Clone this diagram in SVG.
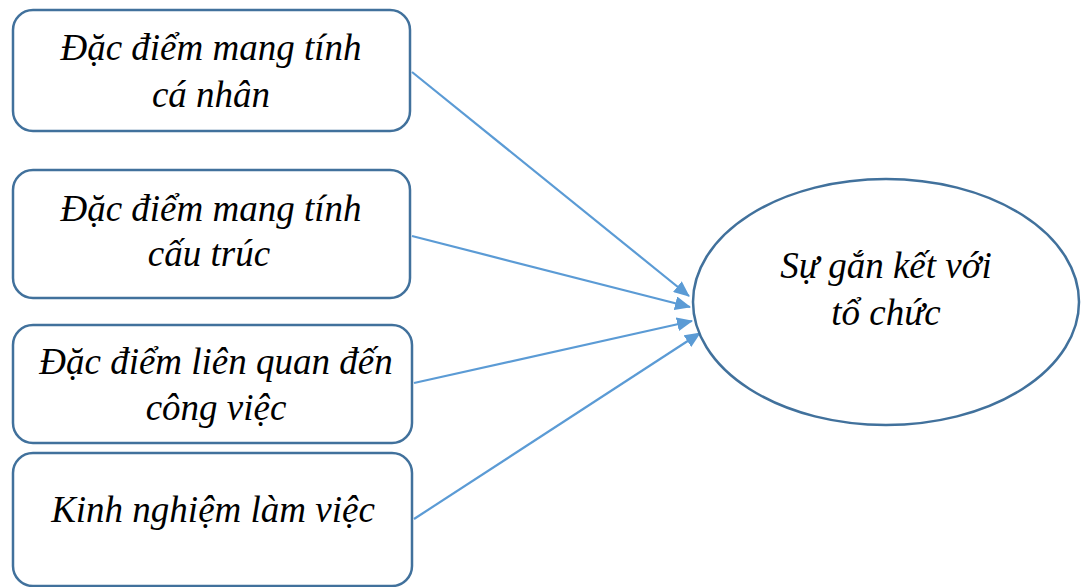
<svg xmlns="http://www.w3.org/2000/svg" width="1085" height="587" viewBox="0 0 1085 587">
  <style>
    .box { fill: #ffffff; stroke: #41719c; stroke-width: 2.5; }
    .lbl { font-family: "Liberation Serif", "Times New Roman", serif; font-style: italic; font-size: 37px; fill: #000000; text-anchor: middle; }
    .conn { stroke: #5b9bd5; stroke-width: 2.2; fill: none; marker-end: url(#arrow); }
  </style>
  <defs>
    <marker id="arrow" markerWidth="16" markerHeight="14" refX="15" refY="7" orient="auto" markerUnits="userSpaceOnUse" viewBox="0 0 16 14">
      <path d="M0,0 L16,7 L0,14 z" fill="#5b9bd5"/>
    </marker>
  </defs>

  <g id="connectors">
    <line class="conn" x1="412" y1="72" x2="689" y2="296"/>
    <line class="conn" x1="412" y1="236" x2="690" y2="307"/>
    <line class="conn" x1="414" y1="383" x2="692" y2="321"/>
    <line class="conn" x1="414" y1="519" x2="700" y2="333"/>
  </g>

  <g id="node-ca-nhan">
    <rect class="box" x="13" y="10" width="397" height="121" rx="20" ry="20"/>
    <text class="lbl" x="211" y="60">Đặc điểm mang tính</text>
    <text class="lbl" x="211" y="107">cá nhân</text>
  </g>

  <g id="node-cau-truc">
    <rect class="box" x="13" y="170" width="397" height="128" rx="20" ry="20"/>
    <text class="lbl" x="211" y="221">Đặc điểm mang tính</text>
    <text class="lbl" x="209" y="266">cấu trúc</text>
  </g>

  <g id="node-cong-viec">
    <rect class="box" x="13" y="325" width="399" height="118" rx="20" ry="20"/>
    <text class="lbl" x="216" y="374">Đặc điểm liên quan đến</text>
    <text class="lbl" x="216" y="420">công việc</text>
  </g>

  <g id="node-kinh-nghiem">
    <rect class="box" x="13" y="453" width="399" height="133" rx="20" ry="20"/>
    <text class="lbl" x="213" y="522">Kinh nghiệm làm việc</text>
  </g>

  <g id="node-gan-ket">
    <ellipse class="box" cx="886" cy="302" rx="193" ry="123"/>
    <text class="lbl" x="886" y="278">Sự gắn kết với</text>
    <text class="lbl" x="886" y="325">tổ chức</text>
  </g>
</svg>
